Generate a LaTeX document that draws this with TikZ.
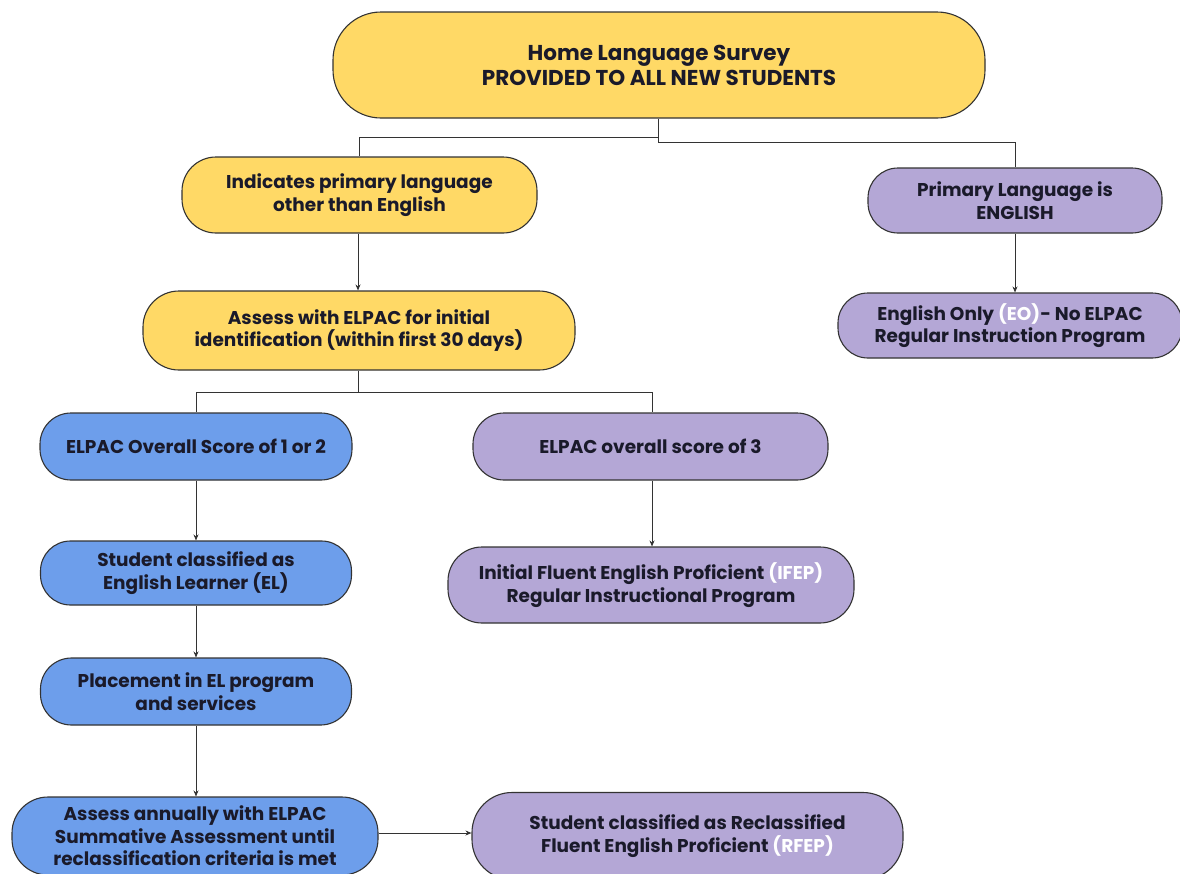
\documentclass[tikz,border=0pt]{standalone}
\usepackage{fontspec}
\setmainfont{Poppins}
\usetikzlibrary{arrows.meta}
\definecolor{yel}{HTML}{FFD966}
\definecolor{pur}{HTML}{B4A7D6}
\definecolor{blu}{HTML}{6D9EEB}
\definecolor{edgec}{HTML}{333333}
\definecolor{txt}{HTML}{1A1A2A}
\begin{document}
\begin{tikzpicture}[x=1pt,y=-1pt,
  box/.style={draw=edgec, line width=1.1pt, inner sep=0pt, align=center,
    font=\fontsize{18.5}{22.5}\selectfont\bfseries, text=txt},
  ybox/.style={box, fill=yel},
  pbox/.style={box, fill=pur},
  bbox/.style={box, fill=blu},
  conn/.style={draw=edgec, line width=0.9pt},
  arr/.style={conn, -{Stealth[length=6pt,width=5pt]}},
  lt/.style={text=white}
]
\useasboundingbox (0,0) rectangle (1180,873);
\fill[white] (0,0) rectangle (1180,873);

\node[ybox, minimum width=652pt, minimum height=106pt, rounded corners=48pt,
  font=\fontsize{21.5}{25}\selectfont\bfseries] (top) at (659,65)
  {Home Language Survey\\PROVIDED TO ALL NEW STUDENTS};
\node[ybox, minimum width=355pt, minimum height=76pt, rounded corners=34pt] (ind) at (359.5,195)
  {Indicates primary language\\other than English};
\node[pbox, minimum width=294pt, minimum height=65pt, rounded corners=30pt] (peng) at (1015,200.5)
  {Primary Language is\\ENGLISH};
\node[ybox, minimum width=432pt, minimum height=79pt, rounded corners=36pt] (aelp) at (359,330.5)
  {Assess with ELPAC for initial\\identification (within first 30 days)};
\node[pbox, minimum width=344pt, minimum height=65pt, rounded corners=30pt] (eo) at (1010,325.5)
  {English Only {\color{white}(EO)}- No ELPAC\\Regular Instruction Program};
\node[bbox, minimum width=312pt, minimum height=67pt, rounded corners=31pt] (e12) at (196,446.5)
  {ELPAC Overall Score of 1 or 2};
\node[pbox, minimum width=355pt, minimum height=67pt, rounded corners=31pt] (e3) at (650.5,446.5)
  {ELPAC overall score of 3};
\node[bbox, minimum width=311pt, minimum height=64pt, rounded corners=30pt] (el) at (196,573)
  {Student classified as\\English Learner (EL)};
\node[pbox, minimum width=406pt, minimum height=76pt, rounded corners=34pt] (ifep) at (651,585)
  {Initial Fluent English Proficient {\color{white}(IFEP)}\\Regular Instructional Program};
\node[bbox, minimum width=311pt, minimum height=67pt, rounded corners=31pt] (plc) at (196,691.5)
  {Placement in EL program\\and services};
\node[bbox, minimum width=366pt, minimum height=78pt, rounded corners=36pt] (aann) at (195,836)
  {Assess annually with ELPAC\\Summative Assessment until\\reclassification criteria is met};
\node[pbox, minimum width=431pt, minimum height=87pt, rounded corners=40pt] (rfep) at (687.5,836)
  {Student classified as Reclassified\\Fluent English Proficient {\color{white}(RFEP)}};

% connectors
\coordinate (j1) at (658,137);
\coordinate (j2) at (658,142);
\draw[conn] (top.south -| j1) -- (j1) -| (ind.north);
\draw[conn] (j1) -- (j2) -| (peng.north);
\draw[arr] (ind.south -| 358,0) -- (aelp.north -| 358,0);
\draw[arr] (peng.south) -- (peng.south |- eo.north);
\coordinate (j3) at (358,392);
\draw[conn] (aelp.south -| j3) -- (j3);
\draw[conn] (j3) -| (e12.north);
\draw[conn] (j3) -| (e3.north -| 652,0);
\draw[arr] (e12.south) -- (el.north);
\draw[arr] (el.south) -- (plc.north);
\draw[arr] (plc.south) -- (plc.south |- aann.north);
\draw[arr] (e3.south -| 652,0) -- (ifep.north -| 652,0);
\draw[arr] (aann.east |- 0,833) -- (rfep.west |- 0,833);
\end{tikzpicture}
\end{document}
